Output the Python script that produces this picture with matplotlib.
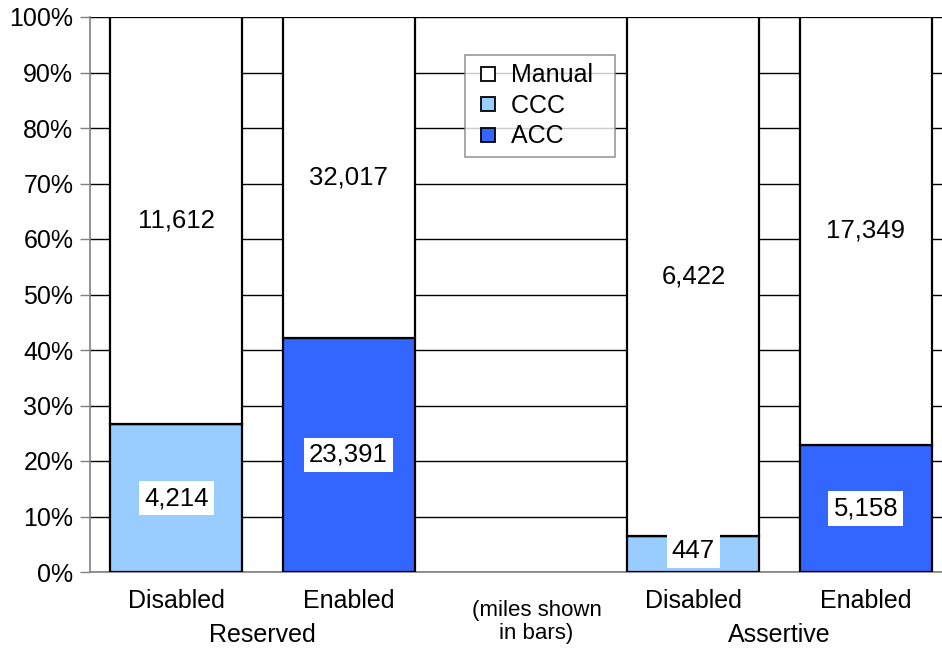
import matplotlib
matplotlib.use("Agg")
import matplotlib.pyplot as plt
from matplotlib.lines import Line2D
import numpy as np

plt.rcParams['font.family'] = ['Liberation Sans', 'DejaVu Sans']

# data (miles)
tick_labels = ['Disabled', 'Enabled', '', 'Disabled', 'Enabled']
groups = ['Reserved', 'Assertive']
manual = [11612, 32017, 0, 6422, 17349]
ccc = [4214, 0, 0, 447, 0]
acc = [0, 23391, 0, 0, 5158]

c_ccc = '#99CCFF'
c_acc = '#3366FF'

manual = np.array(manual, dtype=float)
ccc = np.array(ccc, dtype=float)
acc = np.array(acc, dtype=float)
total = manual + ccc + acc
total[total == 0] = 1
p_manual = manual / total * 100
p_ccc = ccc / total * 100
p_acc = acc / total * 100

fig = plt.figure(figsize=(9.42, 6.48), dpi=100)
ax = fig.add_axes([90 / 942, 1 - 572 / 648, 862 / 942, 555 / 648])

x = np.arange(len(tick_labels))
w = 0.765
has = total > 1
ekw = dict(edgecolor='black', linewidth=1.6, zorder=3)
ax.bar(x[has], p_ccc[has], w, color=c_ccc, **ekw)
ax.bar(x[has], p_acc[has], w, bottom=p_ccc[has], color=c_acc, **ekw)
ax.bar(x[has], p_manual[has], w, bottom=(p_ccc + p_acc)[has], color='white', **ekw)

box = dict(boxstyle='square,pad=0.2', facecolor='white', edgecolor='none')
for i in x[has]:
    low = p_ccc[i] + p_acc[i]
    lowv = ccc[i] + acc[i]
    ax.text(i, max(low / 2, 3.8), f'{int(lowv):,}', ha='center', va='center',
            fontsize=18.5, bbox=box, zorder=4)
    ax.text(i, low + p_manual[i] / 2, f'{int(manual[i]):,}', ha='center',
            va='center', fontsize=18.5, zorder=4)

ax.set_xlim(-0.5, len(x) - 0.5)
ax.set_ylim(0, 100)
ax.set_yticks(np.arange(0, 101, 10))
ax.set_yticklabels([f'{v}%' for v in range(0, 101, 10)])
ax.yaxis.grid(True, color='black', linewidth=1.0)
ax.set_axisbelow(True)
ax.set_xticks(x)
ax.set_xticklabels(tick_labels)
ax.tick_params(axis='x', length=0, labelsize=18, pad=12)
ax.tick_params(axis='y', length=7, width=1, color='#808080', labelsize=18, pad=5)
for s in ['top', 'right']:
    ax.spines[s].set_visible(False)
ax.spines['left'].set_color('#808080')
ax.spines['bottom'].set_color('#808080')
ax.spines['left'].set_linewidth(1.2)
ax.spines['bottom'].set_linewidth(1.2)

ax.text(0.5, -0.113, groups[0], transform=ax.get_xaxis_transform(),
        ha='center', va='center', fontsize=18)
ax.text(3.5, -0.113, groups[1], transform=ax.get_xaxis_transform(),
        ha='center', va='center', fontsize=18)
ax.text(2.09, -0.09, '(miles shown\nin bars)', transform=ax.get_xaxis_transform(),
        ha='center', va='center', fontsize=16, linespacing=1.1)

mk = dict(marker='s', linestyle='none', markersize=10, markeredgecolor='black',
          markeredgewidth=1.3)
handles = [Line2D([], [], markerfacecolor='white', label='Manual', **mk),
           Line2D([], [], markerfacecolor=c_ccc, label='CCC', **mk),
           Line2D([], [], markerfacecolor=c_acc, label='ACC', **mk)]
leg = fig.legend(handles=handles, loc='upper left', bbox_to_anchor=(465 / 942, 1 - 55 / 648),
                 fontsize=18, frameon=True, fancybox=False, handlelength=1.2,
                 handletextpad=0.3, borderpad=0.33, labelspacing=0.26,
                 borderaxespad=0, numpoints=1)
leg.get_frame().set_edgecolor('#808080')
leg.get_frame().set_linewidth(1.2)
leg.set_zorder(5)
# widen the frame on the right a bit, like the original
for t in leg.get_texts():
    t.set_text(t.get_text() + '  ')

fig.savefig('out.png', dpi=100)
